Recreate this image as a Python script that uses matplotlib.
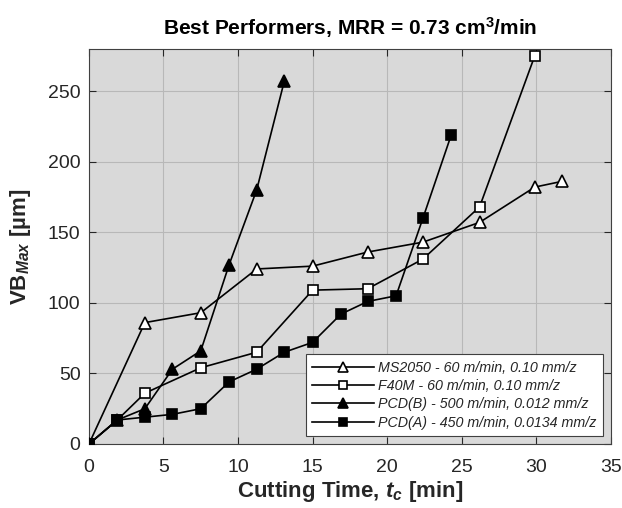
import matplotlib
matplotlib.use("Agg")
import matplotlib.pyplot as plt

plt.rcParams['font.family'] = ['Liberation Sans', 'DejaVu Sans']
plt.rcParams['mathtext.fontset'] = 'custom'
plt.rcParams['mathtext.rm'] = 'Liberation Sans'
plt.rcParams['mathtext.it'] = 'Liberation Sans:italic'
plt.rcParams['mathtext.bf'] = 'Liberation Sans:bold'
plt.rcParams['mathtext.bfit'] = 'Liberation Sans:bold:italic'

# Data
ms2050_t = [0, 3.75, 7.5, 11.25, 15.0, 18.7, 22.4, 26.2, 29.9, 31.7]
ms2050_vb = [0, 86, 93, 124, 126, 136, 143, 157, 182, 186]

f40m_t = [0, 1.9, 3.75, 7.5, 11.25, 15.0, 18.7, 22.4, 26.2, 29.9]
f40m_vb = [0, 17, 36, 54, 65, 109, 110, 131, 168, 275]

pcdb_t = [0, 1.9, 3.75, 5.6, 7.5, 9.4, 11.25, 13.1]
pcdb_vb = [0, 17, 25, 53, 66, 127, 180, 257]

pcda_t = [0, 1.9, 3.75, 5.6, 7.5, 9.4, 11.25, 13.1, 15.0, 16.9, 18.7, 20.6, 22.4, 24.3]
pcda_vb = [0, 17, 19, 21, 25, 44, 53, 65, 72, 92, 101, 105, 160, 219]

labels = ["MS2050 - 60 m/min, 0.10 mm/z",
          "F40M - 60 m/min, 0.10 mm/z",
          "PCD(B) - 500 m/min, 0.012 mm/z",
          "PCD(A) - 450 m/min, 0.0134 mm/z"]

xticks = [0, 5, 10, 15, 20, 25, 30, 35]
yticks = [0, 50, 100, 150, 200, 250]

txt = '#262626'
fig = plt.figure(figsize=(6.22, 5.08), dpi=100)
ax = fig.add_axes([0.143, 0.126, 0.839, 0.778])
ax.set_facecolor('#d9d9d9')

lw = 1.2
ax.plot(ms2050_t, ms2050_vb, '-', color='black', lw=lw, marker='^', ms=9,
        mfc='white', mec='black', mew=1.2, label=labels[0], zorder=3)
ax.plot(f40m_t, f40m_vb, '-', color='black', lw=lw, marker='s', ms=7.8,
        mfc='white', mec='black', mew=1.2, label=labels[1], zorder=3)
ax.plot(pcdb_t, pcdb_vb, '-', color='black', lw=lw, marker='^', ms=9,
        mfc='black', mec='black', mew=1.2, label=labels[2], zorder=4)
ax.plot(pcda_t, pcda_vb, '-', color='black', lw=lw, marker='s', ms=7.8,
        mfc='black', mec='black', mew=1.2, label=labels[3], zorder=4)

ax.set_xlim(0, 35)
ax.set_ylim(0, 280)
ax.set_xticks(xticks)
ax.set_yticks(yticks)
ax.grid(True, color='#b8b8b8', lw=0.8)
ax.set_axisbelow(True)
ax.tick_params(direction='in', top=True, right=True, labelsize=14,
               colors=txt, length=5, width=0.8)
ax.tick_params(axis='x', pad=11)
ax.tick_params(axis='y', pad=6)
for s in ax.spines.values():
    s.set_color('#404040')
    s.set_linewidth(0.8)

ax.set_title(r"Best Performers, MRR = 0.73 cm$^{\mathbf{3}}$/min",
             fontsize=15, fontweight='bold', color='black', pad=10)
ax.set_xlabel(r"Cutting Time, $\mathbfit{t}_{\mathbfit{c}}$ [min]",
              fontsize=16, fontweight='bold', color=txt, labelpad=2)
ax.set_ylabel(r"VB$_{\mathbfit{Max}}$ [µm]",
              fontsize=16, fontweight='bold', color=txt, labelpad=11)

leg = ax.legend(loc='lower right', bbox_to_anchor=(0.985, 0.02), borderaxespad=0,
                fancybox=False, framealpha=1, edgecolor='#404040',
                handlelength=4.3, markerscale=0.75,
                prop={'style': 'italic', 'size': 10.3},
                labelspacing=0.3, handletextpad=0.3, borderpad=0.45)
leg.get_frame().set_linewidth(0.8)
for t in leg.get_texts():
    t.set_color(txt)

fig.savefig('out.png', dpi=100)
